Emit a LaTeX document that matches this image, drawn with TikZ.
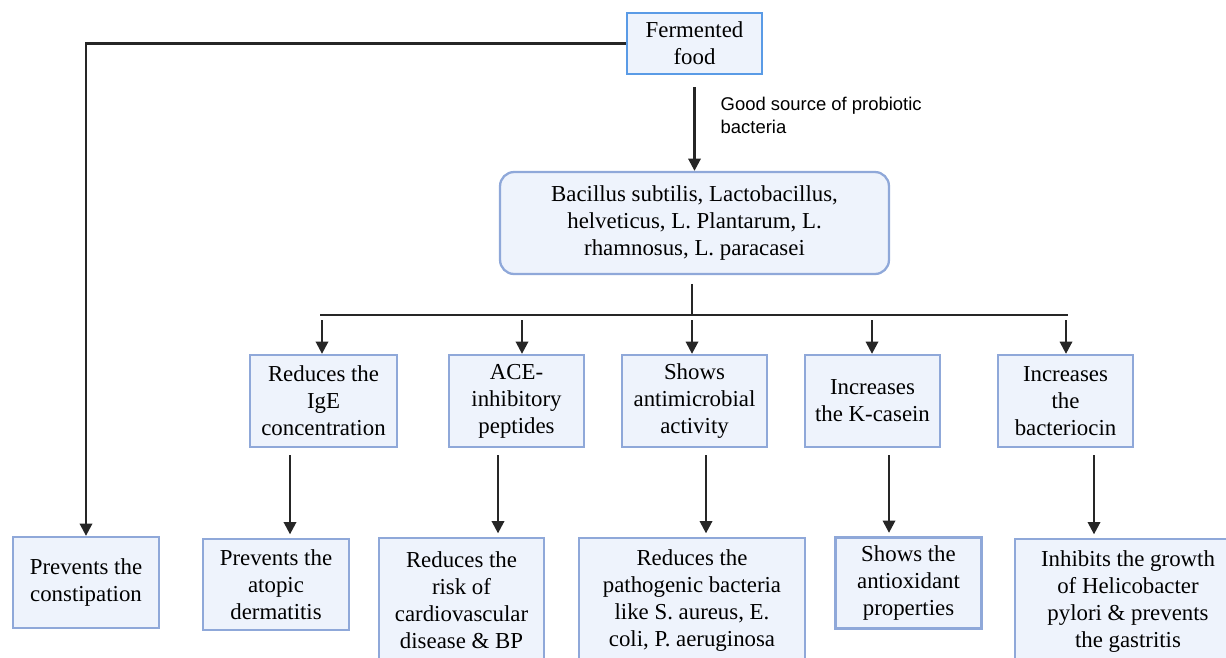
\documentclass[tikz,border=0pt]{standalone}
\usepackage{fontspec}
\setmainfont{Liberation Serif}
\newfontfamily\notefont{Liberation Sans}
\usepackage{xcolor}
\usetikzlibrary{arrows.meta}
\definecolor{boxfill}{HTML}{EEF3FC}
\definecolor{boxline}{HTML}{8FA8D9}
\definecolor{topline}{HTML}{5A9BE6}
\definecolor{arrline}{HTML}{262626}

\begin{document}
\begin{tikzpicture}[x=0.02cm, y=-0.02cm,
  every node/.style={draw=boxline, line width=1.3pt, fill=boxfill,
                     align=center, inner sep=2pt,
                     font=\fontsize{13}{15.4}\selectfont},
  midbox/.style={minimum width=2.7cm, minimum height=1.84cm},
  lowbox/.style={minimum width=2.92cm, minimum height=1.82cm},
  tallbox/.style={minimum height=2.5cm},
  arr/.style={-{Triangle[length=7pt, width=7pt]}, line width=1.4pt, color=arrline},
  link/.style={line width=1.4pt, color=arrline},
]
  \useasboundingbox (0,0) rectangle (1226,657);

  \node (food) at (694.5,43.5) [draw=topline, minimum width=2.7cm, minimum height=1.22cm]
                              {Fermented\\food};
  \node (bac) at (694.5,223) [rounded corners=8pt, minimum width=7.78cm, minimum height=2.04cm]
                              {Bacillus subtilis, Lactobacillus,\\helveticus, L. Plantarum, L.\\rhamnosus, L. paracasei};
  \node (note) at (716,92) [draw=none, fill=none, anchor=north west, align=left,
        font=\notefont\fontsize{10.5}{13.6}\selectfont]
                              {Good source of probiotic\\bacteria};

  \node (ige)  at (323.5,401)  [midbox, minimum width=2.94cm] {Reduces the\\IgE\\concentration};
  \node (ace)  at (516.5,401)  [midbox] {ACE-\\inhibitory\\peptides};
  \node (anti) at (694.5,401)  [midbox, minimum width=2.9cm] {Shows\\antimicrobial\\activity};
  \node (kcas) at (872.5,401)  [midbox] {Increases\\the K-casein};
  \node (bact) at (1065.5,401) [midbox] {Increases\\the\\bacteriocin};

  \node (const) at (86,582.5)   [lowbox] {Prevents the\\constipation};
  \node (atop)  at (276,584.5)  [lowbox] {Prevents the\\atopic\\dermatitis};
  \node (card)  at (461.5,600.5) [lowbox, tallbox, minimum width=3.3cm] {Reduces the\\risk of\\cardiovascular\\disease \& BP};
  \node (path)  at (692,600.5)  [lowbox, tallbox, minimum width=4.52cm] {Reduces the\\pathogenic bacteria\\like S. aureus, E.\\coli, P. aeruginosa};
  \node (anox)  at (908.5,583)  [lowbox] {Shows the\\antioxidant\\properties};
  \node (heli)  at (1128,601.5) [lowbox, tallbox, minimum width=4.52cm] {Inhibits the growth\\of Helicobacter\\pylori \& prevents\\the gastritis};

  \draw[arr, shorten <=7pt] (food) -- (bac);
  \draw[arr] (food.west) -| (const.north);

  \coordinate (hub) at (692,315);
  \draw[link, shorten <=5pt] (bac.south -| hub) -- (hub);
  \draw[link] (320,315) -- (1068,315);
  \draw[arr] (322,320) -- (ige.north -| 322,0);
  \draw[arr] (522,320) -- (ace.north -| 522,0);
  \draw[arr] (692,320) -- (anti.north -| 692,0);
  \draw[arr] (872,320) -- (kcas.north -| 872,0);
  \draw[arr] (1066,320) -- (bact.north -| 1066,0);

  \draw[arr, shorten <=4pt, shorten >=2pt] (ige.south -| 290,0) -- (atop.north -| 290,0);
  \draw[arr, shorten <=4pt, shorten >=2pt] (ace.south -| 498,0) -- (card.north -| 498,0);
  \draw[arr, shorten <=4pt, shorten >=2pt] (anti.south -| 706,0) -- (path.north -| 706,0);
  \draw[arr, shorten <=4pt, shorten >=2pt] (kcas.south -| 889,0) -- (anox.north -| 889,0);
  \draw[arr, shorten <=4pt, shorten >=2pt] (bact.south -| 1094,0) -- (heli.north -| 1094,0);
\end{tikzpicture}
\end{document}
